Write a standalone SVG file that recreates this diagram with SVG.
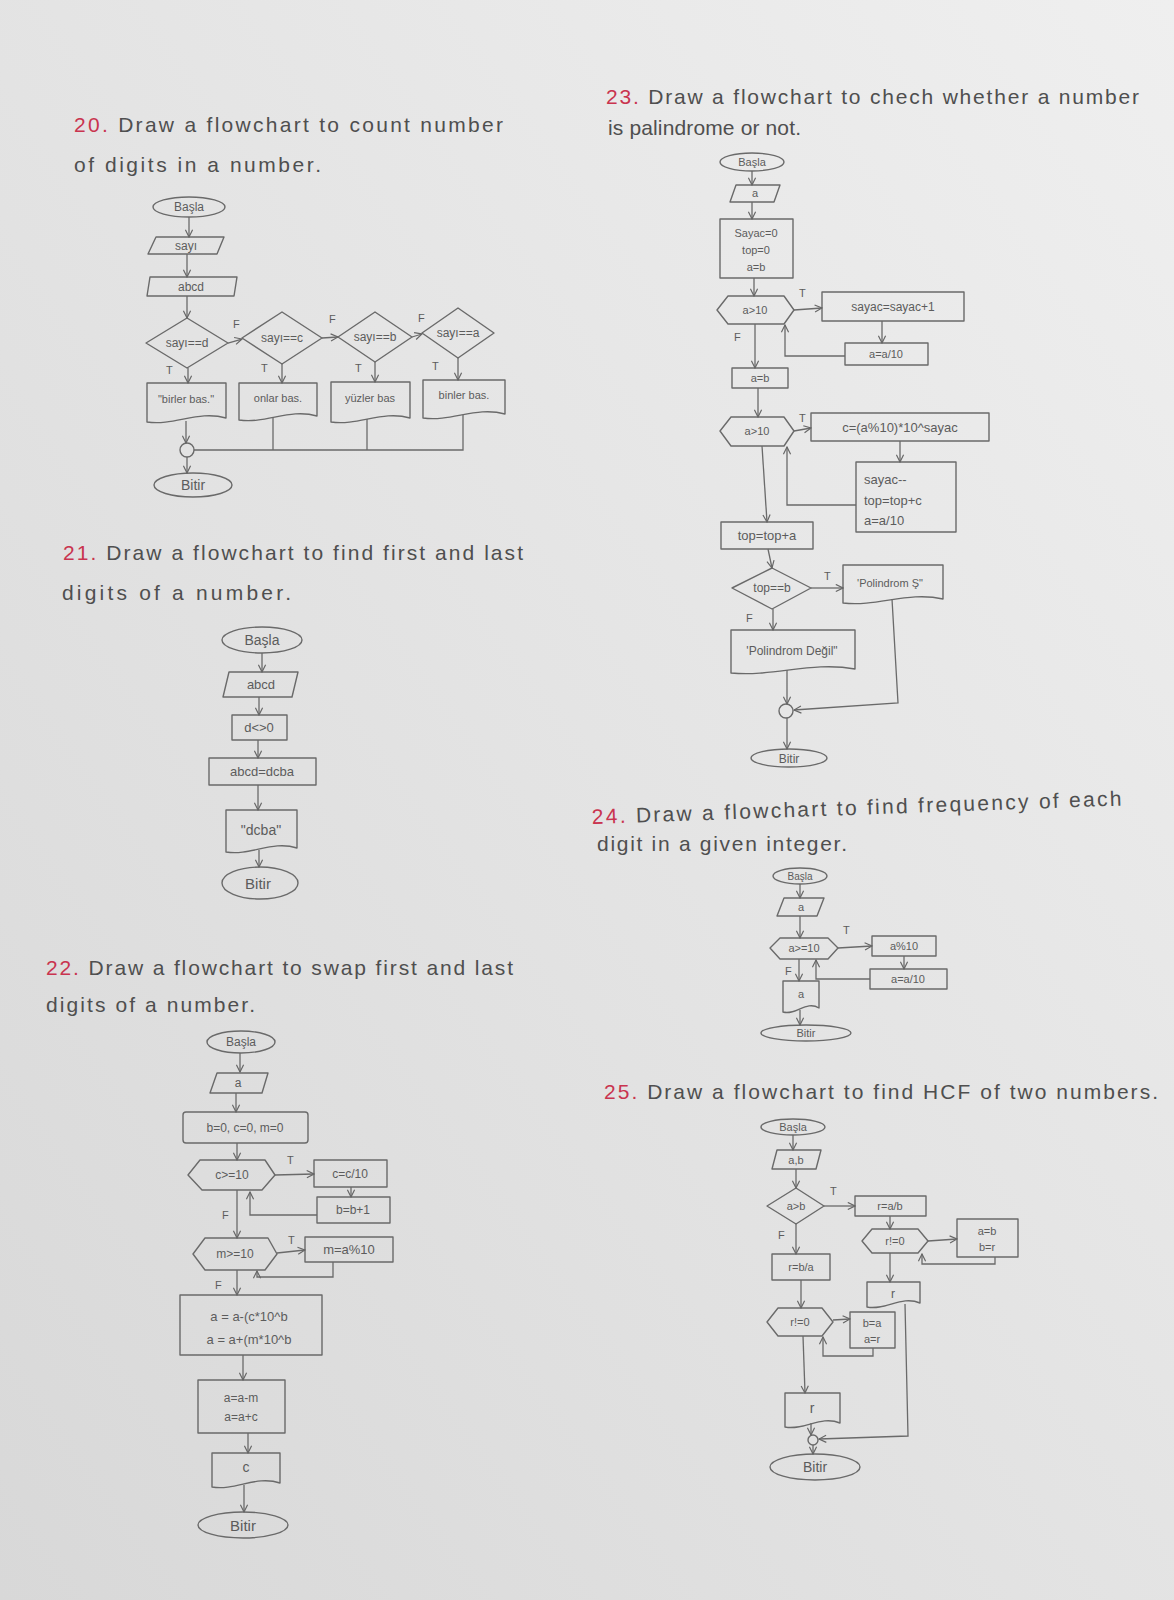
<svg xmlns="http://www.w3.org/2000/svg" width="1174" height="1600" viewBox="0 0 1174 1600">
<defs>
<linearGradient id="paper" x1="1" y1="0" x2="0" y2="1">
<stop offset="0" stop-color="#efefef"/><stop offset="1" stop-color="#d8d8d8"/>
</linearGradient>
<marker id="ah" viewBox="0 0 10 10" markerWidth="9" markerHeight="9" refX="9" refY="5" orient="auto" markerUnits="userSpaceOnUse">
<path d="M1,1 L9,5 L1,9" fill="none" stroke="#666" stroke-width="1.3"/>
</marker>
<style>
.s{fill:none;stroke:#6a6a6a;stroke-width:1.4;stroke-linejoin:round}
.c{fill:none;stroke:#6a6a6a;stroke-width:1.3;marker-end:url(#ah)}
.w{fill:none;stroke:#6a6a6a;stroke-width:1.3}
.t{font-family:"Liberation Sans",Arial,sans-serif;font-size:11px;fill:#5c5c5c;text-anchor:middle}
.m{font-size:13px}
.k{font-size:14px}
.lb{font-family:"Liberation Sans",Arial,sans-serif;font-size:11px;fill:#5c5c5c}
.ll{font-family:"Liberation Sans",Arial,sans-serif;font-size:13px;fill:#5c5c5c}
.h{font-family:"Liberation Sans",Arial,sans-serif;font-size:21px;fill:#4f4f4f}
.r{fill:#c9344f}
</style>
</defs>
<rect x="0" y="0" width="1174" height="1600" fill="url(#paper)"/>

<!-- Titles -->
<g id="title20"><text class="h" x="74" y="132" textLength="429" lengthAdjust="spacing"><tspan class="r">20.</tspan> Draw a flowchart to count number</text><text class="h" x="74" y="172" textLength="247" lengthAdjust="spacing">of digits in a number.</text></g>
<g id="title21"><text class="h" x="63" y="560" textLength="460" lengthAdjust="spacing"><tspan class="r">21.</tspan> Draw a flowchart to find first and last</text><text class="h" x="62" y="600" textLength="229" lengthAdjust="spacing">digits of a number.</text></g>
<g id="title22"><text class="h" x="46" y="975" textLength="467" lengthAdjust="spacing"><tspan class="r">22.</tspan> Draw a flowchart to swap first and last</text><text class="h" x="46" y="1012" textLength="209" lengthAdjust="spacing">digits of a number.</text></g>
<g id="title23"><text class="h" x="606" y="104" textLength="533" lengthAdjust="spacing"><tspan class="r">23.</tspan> Draw a flowchart to chech whether a number</text><text class="h" x="608" y="135" textLength="193" lengthAdjust="spacing">is palindrome or not.</text></g>
<g id="title24"><text class="h" x="592" y="824" transform="rotate(-2 592 824)" textLength="530" lengthAdjust="spacing"><tspan class="r">24.</tspan> Draw a flowchart to find frequency of each</text><text class="h" x="597" y="851" textLength="250" lengthAdjust="spacing">digit in a given integer.</text></g>
<g id="title25"><text class="h" x="604" y="1099" textLength="554" lengthAdjust="spacing"><tspan class="r">25.</tspan> Draw a flowchart to find HCF of two numbers.</text></g>

<!-- Chart 20 nodes -->
<g id="n20-start"><ellipse class="s" cx="189" cy="207" rx="36" ry="10"/><text class="t" x="189" y="211" style="font-size:12px">Başla</text></g>
<g id="n20-input"><polygon class="s" points="156,237 224,237 217,254 148,254"/><text class="t" x="186" y="250" style="font-size:12px">sayı</text></g>
<g id="n20-abcd"><polygon class="s" points="150,277 237,277 234,296 147,296"/><text class="t" x="191" y="291" style="font-size:12px">abcd</text></g>
<g id="n20-d"><polygon class="s" points="187,318 228,343 187,368 146,343"/><text class="t" x="187" y="347" style="font-size:12px">sayı==d</text></g>
<g id="n20-c"><polygon class="s" points="282,312 322,338 282,364 242,338"/><text class="t" x="282" y="342" style="font-size:12px">sayı==c</text></g>
<g id="n20-b"><polygon class="s" points="375,312 412,337 375,362 338,337"/><text class="t" x="375" y="341" style="font-size:12px">sayı==b</text></g>
<g id="n20-a"><polygon class="s" points="458,308 494,333 458,358 422,333"/><text class="t" x="458" y="337" style="font-size:12px">sayı==a</text></g>
<g id="n20-o1"><path class="s" d="M147,383 H226 V418 C198.4,410 174.7,426 147,422 Z"/><text class="t" x="186" y="403">"birler bas."</text></g>
<g id="n20-o2"><path class="s" d="M239,383 H317 V416 C289.7,408 266.3,424 239,420 Z"/><text class="t" x="278" y="402">onlar bas.</text></g>
<g id="n20-o3"><path class="s" d="M331,382 H410 V418 C382.4,410 358.7,426 331,422 Z"/><text class="t" x="370" y="402">yüzler bas</text></g>
<g id="n20-o4"><path class="s" d="M423,380 H505 V414 C476.3,406 451.7,422 423,418 Z"/><text class="t" x="464" y="399">binler bas.</text></g>
<g id="n20-merge"><circle class="s" cx="187" cy="450" r="7"/></g>
<g id="n20-end"><ellipse class="s" cx="193" cy="485" rx="39" ry="12"/><text class="t k" x="193" y="490">Bitir</text></g>

<!-- Chart 21 nodes -->
<g id="n21-start"><ellipse class="s" cx="262" cy="640" rx="40" ry="13"/><text class="t k" x="262" y="645">Başla</text></g>
<g id="n21-input"><polygon class="s" points="229,672 298,672 292,697 223,697"/><text class="t m" x="261" y="689">abcd</text></g>
<g id="n21-cond"><rect class="s" x="232" y="715" width="55" height="25"/><text class="t m" x="259" y="732">d&lt;&gt;0</text></g>
<g id="n21-swap"><rect class="s" x="209" y="758" width="107" height="27"/><text class="t m" x="262" y="776">abcd=dcba</text></g>
<g id="n21-out"><path class="s" d="M226,810 H297 V848 C272.2,840 250.9,856 226,852 Z"/><text class="t k" x="261" y="835">"dcba"</text></g>
<g id="n21-end"><ellipse class="s" cx="260" cy="883" rx="38" ry="16"/><text class="t" x="258" y="889" style="font-size:15px">Bitir</text></g>

<!-- Chart 22 nodes -->
<g id="n22-start"><ellipse class="s" cx="241" cy="1042" rx="34" ry="11"/><text class="t" x="241" y="1046" style="font-size:12px">Başla</text></g>
<g id="n22-input"><polygon class="s" points="217,1073 268,1073 262,1093 210,1093"/><text class="t" x="238" y="1087" style="font-size:12px">a</text></g>
<g id="n22-init"><rect class="s" x="183" y="1112" width="125" height="31" rx="3"/><text class="t" x="245" y="1132" style="font-size:12px">b=0, c=0, m=0</text></g>
<g id="n22-c"><polygon class="s" points="200,1160 265,1160 275,1175 262,1190 202,1190 188,1175"/><text class="t" x="232" y="1179" style="font-size:12px">c&gt;=10</text></g>
<g id="n22-cdiv"><rect class="s" x="314" y="1160" width="73" height="27"/><text class="t" x="350" y="1178" style="font-size:12px">c=c/10</text></g>
<g id="n22-binc"><rect class="s" x="317" y="1197" width="73" height="26"/><text class="t" x="353" y="1214" style="font-size:12px">b=b+1</text></g>
<g id="n22-m"><polygon class="s" points="205,1238 268,1238 277,1254 265,1270 205,1270 193,1254"/><text class="t" x="235" y="1258" style="font-size:12px">m&gt;=10</text></g>
<g id="n22-mmod"><rect class="s" x="305" y="1237" width="88" height="25"/><text class="t m" x="349" y="1254">m=a%10</text></g>
<g id="n22-calc"><rect class="s" x="180" y="1295" width="142" height="60"/><text class="t m" x="249" y="1321">a = a-(c*10^b</text><text class="t m" x="249" y="1344">a = a+(m*10^b</text></g>
<g id="n22-upd"><rect class="s" x="198" y="1380" width="87" height="53"/><text class="t" x="241" y="1402" style="font-size:12px">a=a-m</text><text class="t" x="241" y="1421" style="font-size:12px">a=a+c</text></g>
<g id="n22-out"><path class="s" d="M212,1453 H280 V1483 C256.2,1475 235.8,1491 212,1487 Z"/><text class="t k" x="246" y="1472">c</text></g>
<g id="n22-end"><ellipse class="s" cx="243" cy="1525" rx="45" ry="13"/><text class="t" x="243" y="1531" style="font-size:15px">Bitir</text></g>

<!-- Chart 23 nodes -->
<g id="n23-start"><ellipse class="s" cx="752" cy="162" rx="32" ry="9"/><text class="t" x="752" y="166">Başla</text></g>
<g id="n23-input"><polygon class="s" points="736,185 780,185 774,202 730,202"/><text class="t" x="755" y="197">a</text></g>
<g id="n23-init"><rect class="s" x="720" y="219" width="73" height="59"/><text class="t" x="756" y="237">Sayac=0</text><text class="t" x="756" y="254">top=0</text><text class="t" x="756" y="271">a=b</text></g>
<g id="n23-hex1"><polygon class="s" points="728,296 784,296 794,310 784,324 728,324 717,310"/><text class="t" x="755" y="314">a&gt;10</text></g>
<g id="n23-cnt"><rect class="s" x="822" y="292" width="142" height="29"/><text class="t" x="893" y="311" style="font-size:12px">sayac=sayac+1</text></g>
<g id="n23-div1"><rect class="s" x="845" y="343" width="83" height="22"/><text class="t" x="886" y="358">a=a/10</text></g>
<g id="n23-ab"><rect class="s" x="732" y="368" width="56" height="20"/><text class="t" x="760" y="382">a=b</text></g>
<g id="n23-hex2"><polygon class="s" points="731,417 784,417 794,431 784,446 731,446 720,431"/><text class="t" x="757" y="435">a&gt;10</text></g>
<g id="n23-c"><rect class="s" x="811" y="413" width="178" height="28"/><text class="t m" x="900" y="432">c=(a%10)*10^sayac</text></g>
<g id="n23-upd"><rect class="s" x="856" y="462" width="100" height="70"/><text class="ll" x="864" y="484">sayac--</text><text class="ll" x="864" y="505">top=top+c</text><text class="ll" x="864" y="525">a=a/10</text></g>
<g id="n23-top"><rect class="s" x="721" y="522" width="92" height="27"/><text class="t m" x="767" y="540">top=top+a</text></g>
<g id="n23-dec"><polygon class="s" points="772,568 811,588 772,609 732,588"/><text class="t" x="772" y="592" style="font-size:12px">top==b</text></g>
<g id="n23-yes"><path class="s" d="M843,565 H943 V599 C908,591 878,607 843,603 Z"/><text class="t" x="890" y="587">'Polindrom Ş"</text></g>
<g id="n23-no"><path class="s" d="M731,630 H855 V669 C811.6,661 774.4,677 731,673 Z"/><text class="t" x="792" y="655" style="font-size:12px">'Polindrom Değil"</text></g>
<g id="n23-merge"><circle class="s" cx="786" cy="711" r="7"/></g>
<g id="n23-end"><ellipse class="s" cx="789" cy="758" rx="38" ry="9"/><text class="t" x="789" y="763" style="font-size:12px">Bitir</text></g>

<!-- Chart 24 nodes -->
<g id="n24-start"><ellipse class="s" cx="800" cy="876" rx="27" ry="8"/><text class="t" x="800" y="880" style="font-size:10px">Başla</text></g>
<g id="n24-input"><polygon class="s" points="784,898 824,898 817,916 777,916"/><text class="t" x="801" y="911">a</text></g>
<g id="n24-hex"><polygon class="s" points="780,938 828,938 838,948 828,959 780,959 770,948"/><text class="t" x="804" y="952">a&gt;=10</text></g>
<g id="n24-mod"><rect class="s" x="872" y="936" width="64" height="20"/><text class="t" x="904" y="950">a%10</text></g>
<g id="n24-div"><rect class="s" x="870" y="969" width="77" height="20"/><text class="t" x="908" y="983">a=a/10</text></g>
<g id="n24-out"><path class="s" d="M783,981 H819 V1008 C806.4,1000 795.6,1016 783,1012 Z"/><text class="t" x="801" y="998">a</text></g>
<g id="n24-end"><ellipse class="s" cx="806" cy="1033" rx="45" ry="8"/><text class="t" x="806" y="1037">Bitir</text></g>

<!-- Chart 25 nodes -->
<g id="n25-start"><ellipse class="s" cx="793" cy="1127" rx="32" ry="8"/><text class="t" x="793" y="1131">Başla</text></g>
<g id="n25-input"><polygon class="s" points="777,1150 821,1150 816,1169 772,1169"/><text class="t" x="796" y="1164">a,b</text></g>
<g id="n25-dec"><polygon class="s" points="796,1188 824,1206 796,1224 767,1206"/><text class="t" x="796" y="1210">a&gt;b</text></g>
<g id="n25-r1"><rect class="s" x="855" y="1196" width="71" height="20"/><text class="t" x="890" y="1210">r=a/b</text></g>
<g id="n25-hex1"><polygon class="s" points="872,1229 918,1229 928,1241 918,1253 872,1253 862,1241"/><text class="t" x="895" y="1245">r!=0</text></g>
<g id="n25-swap1"><rect class="s" x="957" y="1219" width="61" height="38"/><text class="t" x="987" y="1235">a=b</text><text class="t" x="987" y="1251">b=r</text></g>
<g id="n25-out1"><path class="s" d="M867,1282 H920 V1303 C901.5,1295 885.5,1311 867,1307 Z"/><text class="t" x="893" y="1298" style="font-size:12px">r</text></g>
<g id="n25-r2"><rect class="s" x="772" y="1254" width="58" height="26"/><text class="t" x="801" y="1271">r=b/a</text></g>
<g id="n25-hex2"><polygon class="s" points="778,1308 822,1308 833,1322 822,1336 778,1336 767,1322"/><text class="t" x="800" y="1326">r!=0</text></g>
<g id="n25-swap2"><rect class="s" x="850" y="1312" width="45" height="36"/><text class="t" x="872" y="1327">b=a</text><text class="t" x="872" y="1343">a=r</text></g>
<g id="n25-out2"><path class="s" d="M785,1393 H840 V1423 C820.75,1415 804.25,1431 785,1427 Z"/><text class="t k" x="812" y="1413">r</text></g>
<g id="n25-merge"><circle class="s" cx="813" cy="1440" r="5"/></g>
<g id="n25-end"><ellipse class="s" cx="815" cy="1467" rx="45" ry="13"/><text class="t k" x="815" y="1472">Bitir</text></g>

<!-- Connectors -->
<g id="connectors">
<path class="c" d="M189,217 V237"/>
<path class="c" d="M187,254 V277"/>
<path class="c" d="M187,296 V318"/>
<path class="c" d="M228,343 L242,339"/>
<path class="c" d="M322,338 L338,337"/>
<path class="c" d="M412,337 L422,334"/>
<path class="c" d="M188,368 V383"/>
<path class="c" d="M282,364 V383"/>
<path class="c" d="M375,362 V382"/>
<path class="c" d="M458,358 V380"/>
<path class="c" d="M186,421 V443"/>
<path class="w" d="M273,417 V450"/>
<path class="w" d="M367,419 V450"/>
<path class="w" d="M463,415 V450 H194"/>
<path class="c" d="M187,457 V473"/>

<path class="c" d="M262,653 V672"/>
<path class="c" d="M259,697 V715"/>
<path class="c" d="M258,740 V758"/>
<path class="c" d="M258,785 V810"/>
<path class="c" d="M259,850 V867"/>

<path class="c" d="M240,1053 V1072"/>
<path class="c" d="M236,1093 V1112"/>
<path class="c" d="M237,1143 V1160"/>
<path class="c" d="M275,1175 L314,1174"/>
<path class="c" d="M351,1187 V1197"/>
<path class="c" d="M317,1215 H250 V1192"/>
<path class="c" d="M237,1190 V1238"/>
<path class="c" d="M277,1253 L305,1250"/>
<path class="c" d="M333,1262 V1277 H257 V1271"/>
<path class="c" d="M237,1270 V1295"/>
<path class="c" d="M243,1355 V1380"/>
<path class="c" d="M248,1433 V1453"/>
<path class="c" d="M244,1485 V1512"/>

<path class="c" d="M752,171 V185"/>
<path class="c" d="M752,202 V219"/>
<path class="c" d="M754,278 V296"/>
<path class="c" d="M794,310 L822,308"/>
<path class="c" d="M882,321 V343"/>
<path class="c" d="M845,356 H785 V325"/>
<path class="c" d="M755,324 V368"/>
<path class="c" d="M758,388 V417"/>
<path class="c" d="M794,431 L811,428"/>
<path class="c" d="M900,441 V462"/>
<path class="c" d="M856,505 H787 V447"/>
<path class="c" d="M762,446 L767,522"/>
<path class="c" d="M768,549 L772,568"/>
<path class="c" d="M811,588 H843"/>
<path class="c" d="M773,609 V630"/>
<path class="c" d="M787,670 V704"/>
<path class="c" d="M892,599 L898,703 L794,710"/>
<path class="c" d="M787,718 V749"/>

<path class="c" d="M800,884 V898"/>
<path class="c" d="M800,916 V938"/>
<path class="c" d="M838,948 L872,946"/>
<path class="c" d="M904,956 V969"/>
<path class="c" d="M870,979 H816 V960"/>
<path class="c" d="M799,959 V981"/>
<path class="c" d="M800,1010 V1025"/>

<path class="c" d="M793,1135 V1150"/>
<path class="c" d="M796,1169 V1188"/>
<path class="c" d="M824,1206 H855"/>
<path class="c" d="M890,1216 V1229"/>
<path class="c" d="M928,1241 L957,1239"/>
<path class="c" d="M995,1257 V1264 H922 V1254"/>
<path class="c" d="M890,1253 V1282"/>
<path class="c" d="M905,1304 L908,1436 L819,1439"/>
<path class="c" d="M796,1224 V1254"/>
<path class="c" d="M801,1280 V1308"/>
<path class="c" d="M833,1320 L850,1319"/>
<path class="c" d="M873,1348 V1356 H823 V1337"/>
<path class="c" d="M803,1336 L805,1393"/>
<path class="c" d="M811,1423 V1435"/>
<path class="c" d="M813,1445 V1454"/>

<text class="lb" x="233" y="328">F</text>
<text class="lb" x="329" y="323">F</text>
<text class="lb" x="418" y="322">F</text>
<text class="lb" x="166" y="374">T</text>
<text class="lb" x="261" y="372">T</text>
<text class="lb" x="355" y="372">T</text>
<text class="lb" x="432" y="370">T</text>

<text class="lb" x="287" y="1164">T</text>
<text class="lb" x="222" y="1219">F</text>
<text class="lb" x="288" y="1244">T</text>
<text class="lb" x="215" y="1289">F</text>

<text class="lb" x="799" y="297">T</text>
<text class="lb" x="734" y="341">F</text>
<text class="lb" x="799" y="422">T</text>
<text class="lb" x="824" y="580">T</text>
<text class="lb" x="746" y="622">F</text>

<text class="lb" x="843" y="934">T</text>
<text class="lb" x="785" y="975">F</text>

<text class="lb" x="830" y="1195">T</text>
<text class="lb" x="778" y="1239">F</text>
</g>
</svg>
